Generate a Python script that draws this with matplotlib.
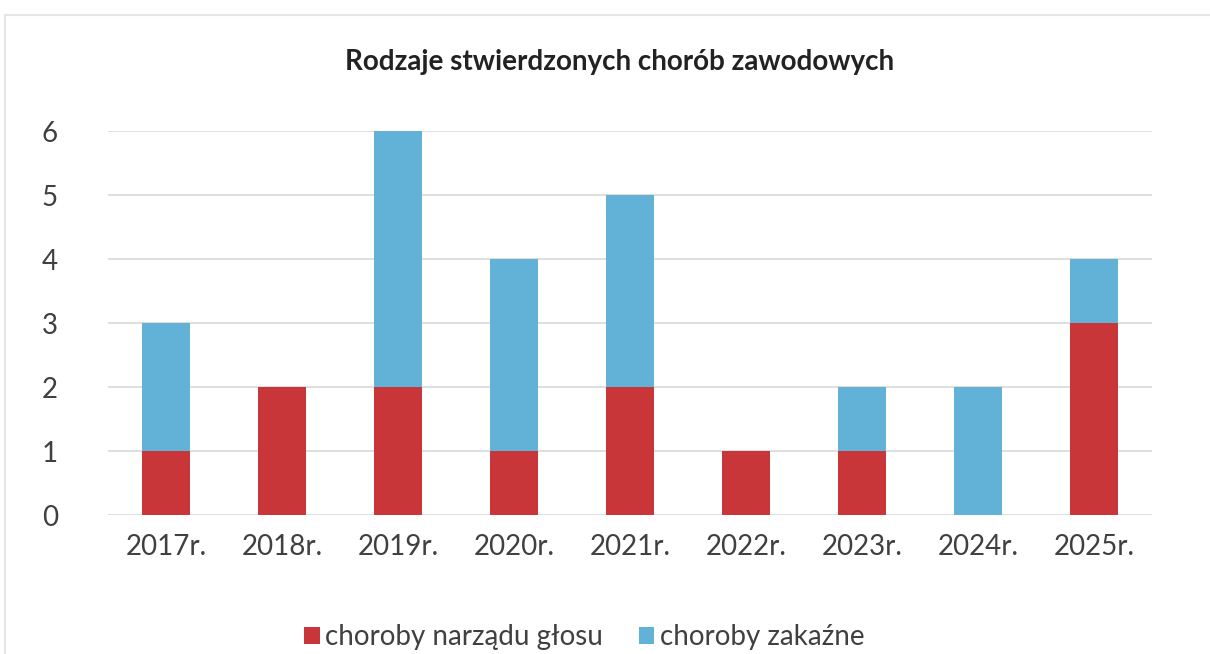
import matplotlib.pyplot as plt
from matplotlib.patches import Rectangle

# Data
years = ["2017r.", "2018r.", "2019r.", "2020r.", "2021r.", "2022r.", "2023r.", "2024r.", "2025r."]
glos = [1, 2, 2, 1, 2, 1, 1, 0, 3]
zakazne = [2, 0, 4, 3, 3, 0, 1, 2, 1]

red = "#C9363A"
blue = "#62B2D8"

plt.rcParams['font.family'] = ['Lato', 'DejaVu Sans']

fig = plt.figure(figsize=(12.1, 6.54), dpi=100)
ax = fig.add_axes([108 / 1210, 1 - 515 / 654, (1152 - 108) / 1210, (515 - 131) / 654])

x = range(len(years))
ax.bar(x, glos, width=0.41, color=red, label="choroby narządu głosu", zorder=3)
ax.bar(x, zakazne, width=0.41, bottom=glos, color=blue, label="choroby zakaźne", zorder=3)

ax.set_xlim(-0.5, len(years) - 0.5)
ax.set_ylim(0, 6)
ax.set_yticks(range(7))
ax.set_xticks(list(x))
ax.set_xticklabels(years)
ax.grid(axis='y', color="#D9D9D9", linewidth=1.2, zorder=0)
for s in ax.spines.values():
    s.set_visible(False)
ax.tick_params(length=0, labelsize=20, colors="#404040", pad=14)
ax.tick_params(axis='y', pad=36)

fig.text(0.512, 1 - 62 / 654, "Rodzaje stwierdzonych chorób zawodowych",
         ha='center', va='center', fontsize=20, fontweight='bold', color="#222222")

fig.legend(loc='center', bbox_to_anchor=(0.483, 1 - 637 / 654), ncol=2, frameon=False,
           fontsize=20, handlelength=0.55, handleheight=0.55, handletextpad=0.2,
           columnspacing=1.3, labelcolor="#404040")

# faint scan frame
fig.patches.append(Rectangle((5 / 1210, -0.01), 1.02, 1 - 15 / 654 + 0.01, transform=fig.transFigure,
                             fill=False, edgecolor="#E6E6E6", linewidth=1.5))

fig.savefig("out.png", dpi=100)
